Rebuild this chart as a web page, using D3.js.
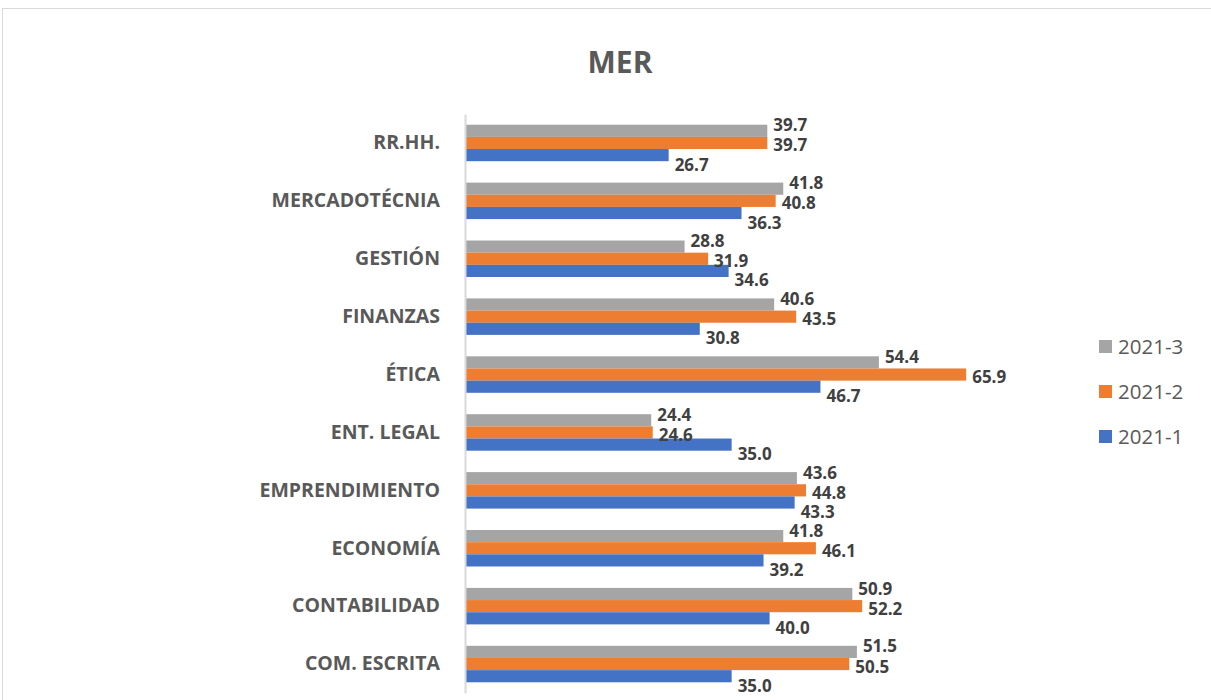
<!DOCTYPE html>
<html>
<head>
<meta charset="utf-8">
<script src="https://cdn.jsdelivr.net/npm/d3@7.9.0/dist/d3.min.js"></script>
<style>
  body { margin: 0; background: #fff; }
  svg { display: block; font-family: "Open Sans", sans-serif; }
</style>
</head>
<body>
<svg id="chart" width="1211" height="700"></svg>
<script>
// data, top to bottom as in the chart
const categories = ["RR.HH.", "MERCADOTÉCNIA", "GESTIÓN", "FINANZAS", "ÉTICA",
  "ENT. LEGAL", "EMPRENDIMIENTO", "ECONOMÍA", "CONTABILIDAD", "COM. ESCRITA"];
const seriesNames = ["2021-3", "2021-2", "2021-1"];
const values2021_3 = [39.7, 41.8, 28.8, 40.6, 54.4, 24.4, 43.6, 41.8, 50.9, 51.5];
const values2021_2 = [39.7, 40.8, 31.9, 43.5, 65.9, 24.6, 44.8, 46.1, 52.2, 50.5];
const values2021_1 = [26.7, 36.3, 34.6, 30.8, 46.7, 35.0, 43.3, 39.2, 40.0, 35.0];
const seriesColors = ["#a5a5a5", "#ed7d31", "#4472c4"];

const seriesValues = [values2021_3, values2021_2, values2021_1];
const rows = categories.map((c, i) => ({
  cat: c,
  vals: seriesNames.map((s, j) => ({ key: s, value: seriesValues[j][i], idx: j }))
}));

const svg = d3.select("#chart");

// chart frame
svg.append("rect")
  .attr("x", 2.5).attr("y", 8.5)
  .attr("width", 1220).attr("height", 720)
  .attr("fill", "none").attr("stroke", "#d9d9d9");

const x = d3.scaleLinear().domain([0, 70]).range([466, 997.3]);
const y = d3.scaleBand().domain(categories).range([114, 693])
  .paddingInner(0.37).paddingOuter(0.185);
const ySub = d3.scaleBand().domain(seriesNames).range([0, y.bandwidth()]);

// title
svg.append("text")
  .attr("x", 620).attr("y", 73)
  .attr("text-anchor", "middle")
  .attr("font-size", 30).attr("font-weight", 700)
  .attr("fill", "#595959")
  .text("MER");

// bars
const groups = svg.selectAll("g.cat")
  .data(rows)
  .enter()
  .append("g")
  .attr("class", "cat")
  .attr("transform", (d) => `translate(0,${y(d.cat)})`);

groups.selectAll("rect")
  .data((d) => d.vals)
  .enter()
  .append("rect")
  .attr("x", x(0))
  .attr("y", (d) => ySub(d.key))
  .attr("width", (d) => x(d.value) - x(0))
  .attr("height", ySub.bandwidth())
  .attr("fill", (d) => seriesColors[d.idx]);

// value labels (staggered like the original)
const labelDy = [-6, 2, 9];
groups.selectAll("text.val")
  .data((d) => d.vals)
  .enter()
  .append("text")
  .attr("class", "val")
  .attr("x", (d) => x(d.value) + 6)
  .attr("y", (d) => ySub(d.key) + ySub.bandwidth() / 2 + labelDy[d.idx])
  .attr("dominant-baseline", "central")
  .attr("font-size", 17).attr("font-weight", 700)
  .attr("fill", "#404040")
  .text((d) => d.value.toFixed(1));

// category axis
const yAxis = d3.axisLeft(y).tickSize(0).tickPadding(25);
const ax = svg.append("g")
  .attr("transform", `translate(${x(0) - 1},0)`)
  .call(yAxis);
ax.select(".domain").attr("stroke", "#d9d9d9").attr("stroke-width", 2);
ax.selectAll("text")
  .attr("font-family", "Open Sans, sans-serif")
  .attr("font-size", 19.5).attr("font-weight", 700)
  .attr("fill", "#595959");

// legend
const legend = svg.append("g")
  .selectAll("g")
  .data(seriesNames)
  .enter()
  .append("g")
  .attr("transform", (_, i) => `translate(1099,${346 + i * 45})`);
legend.append("rect")
  .attr("x", 0).attr("y", -6)
  .attr("width", 13).attr("height", 13)
  .attr("fill", (_, i) => seriesColors[i]);
legend.append("text")
  .attr("x", 19).attr("y", 0)
  .attr("dominant-baseline", "central")
  .attr("font-size", 20.5)
  .attr("fill", "#595959")
  .text((d) => d);
</script>
</body>
</html>
